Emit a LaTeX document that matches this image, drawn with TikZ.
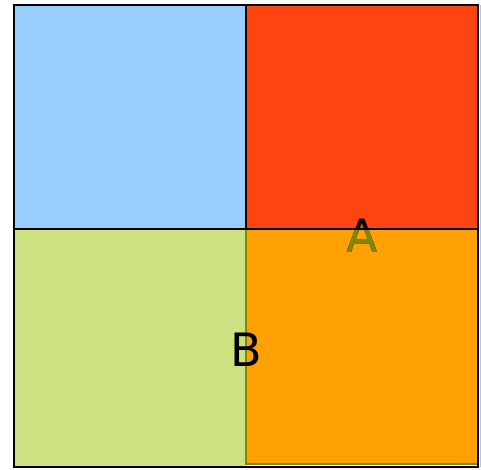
\documentclass[tikz,border=0pt]{standalone}
\usepackage{fontspec}
\setmainfont{DejaVu Sans}
\definecolor{cblue}{HTML}{99CCFF}
\definecolor{cred}{HTML}{FF4411}
\definecolor{cgreen}{HTML}{CCE282}
\definecolor{corange}{HTML}{FFA005}
\definecolor{colive}{HTML}{7F8800}
\tikzset{lbl/.style={inner sep=0pt, font=\fontsize{46}{46}\selectfont}}
\begin{document}
\begin{tikzpicture}[x=1pt,y=-1pt]
\useasboundingbox (0,0) rectangle (481,469);
\fill[white] (0,0) rectangle (481,469);
% quadrants
\fill[cblue] (14,5) rectangle (246,229);
\fill[cred] (246,5) rectangle (478,229);
\fill[cgreen] (14,229) rectangle (246,467);
\fill[corange] (246,229) rectangle (477,464);
\draw[colive, line width=2] (246,229) -- (246,464) -- (477,464);
% labels
\node[lbl] (a) at (362,236) {A};
\begin{scope}
\clip (246,229) rectangle (478,467);
\node[lbl, text=colive] (a2) at (362,236) {A};
\end{scope}
\node[lbl] (b) at (246,350) {B};
% black lines
\draw[black, line width=2] (246,5) -- (246,229);
\draw[black, line width=2] (14,229) -- (478,229);
\draw[black, line width=2] (14,5) rectangle (478,467);
\draw[cblue, line width=1] (480.5,5) -- (480.5,467);
\end{tikzpicture}
\end{document}
